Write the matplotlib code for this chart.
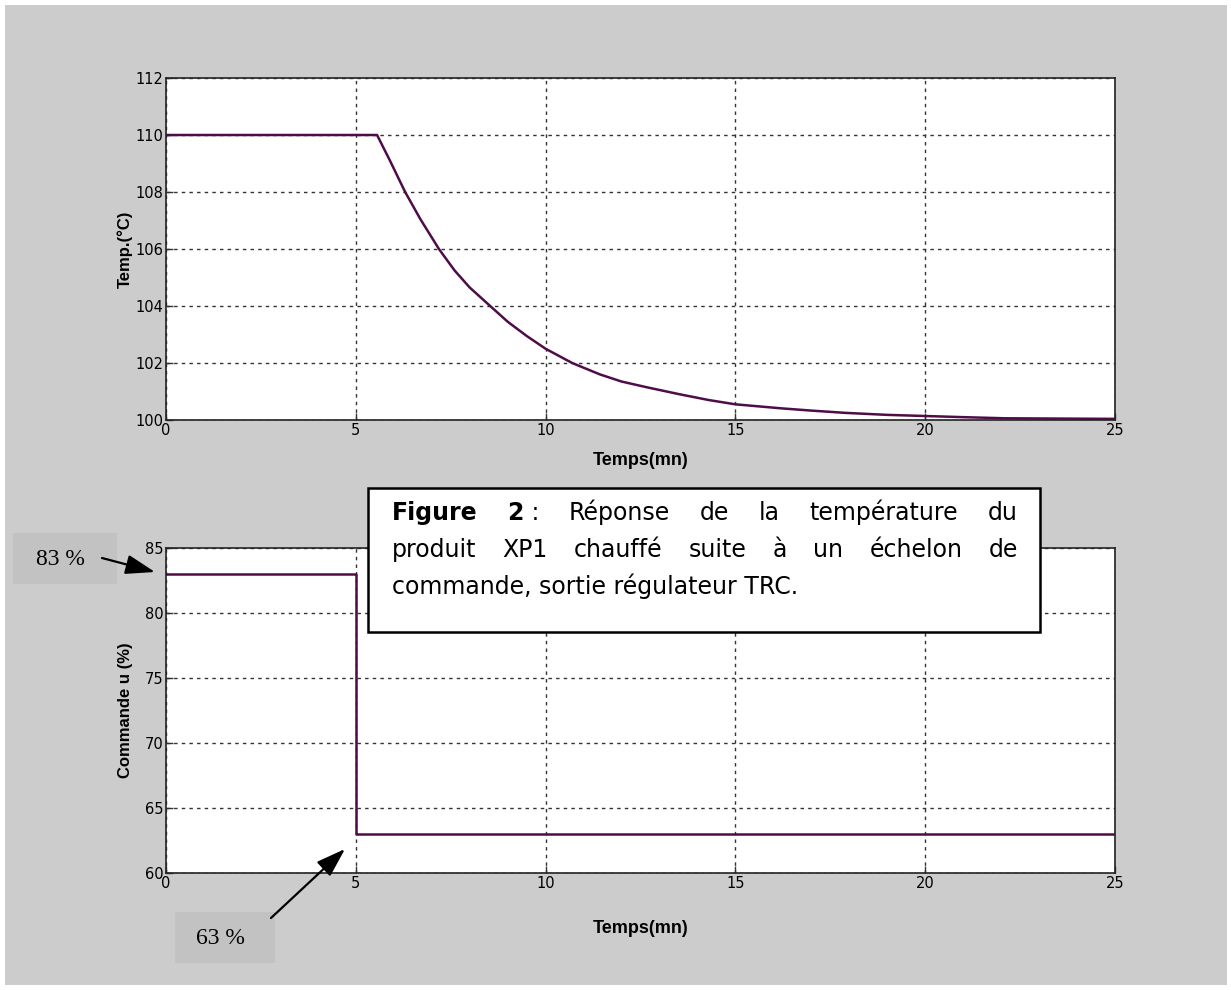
import numpy as np
import matplotlib
matplotlib.use('Agg')
import matplotlib.pyplot as plt
from matplotlib.patches import Rectangle, FancyArrowPatch

# temperature response
t_temp = [0, 5.56, 5.9, 6.3, 6.7, 7.19, 7.6, 8.0, 8.54, 9.0, 9.5, 10.0, 10.7, 11.43, 12.0,
          12.66, 13.54, 14.3, 15.0, 16.2, 17.0, 17.9, 19.0, 20.0, 21.0, 22.1, 23.5, 25.0]
temp = [110, 110, 109.1, 108.0, 107.05, 106.0, 105.25, 104.65, 104.0, 103.45, 102.95, 102.5,
        102.0, 101.6, 101.35, 101.15, 100.9, 100.7, 100.55, 100.41, 100.33, 100.25, 100.18,
        100.14, 100.1, 100.06, 100.05, 100.04]

# command step (lower panel)
t_cmd = [0, 5, 25]
cmd = [83, 63, 63]

temp_ticks = [100, 102, 104, 106, 108, 110, 112]
cmd_ticks = [60, 65, 70, 75, 80, 85]
time_ticks = [0, 5, 10, 15, 20, 25]

W, H = 1231, 990
line_col = '#4e0c48'
bg = '#cccccc'

def fx(x):
    return x / W

def fy(y):
    return 1 - y / H

fig = plt.figure(figsize=(W / 100, H / 100), dpi=100, facecolor='white')
fig.patches.append(Rectangle((fx(5), fy(985)), fx(1222), 980 / H, transform=fig.transFigure,
                             facecolor=bg, edgecolor='none', zorder=-10))

ax1 = fig.add_axes([fx(166), fy(420), fx(1115 - 166), (420 - 78) / H])
ax2 = fig.add_axes([fx(166), fy(873), fx(1115 - 166), (873 - 548) / H])

for ax, yt in ((ax1, temp_ticks), (ax2, cmd_ticks)):
    ax.set_facecolor('white')
    ax.set_xlim(0, 25)
    ax.set_ylim(yt[0], yt[-1])
    ax.set_xticks(time_ticks)
    ax.set_yticks(yt)
    ax.grid(True, color='#333333', linestyle=(0, (2.5, 3)), linewidth=1)
    ax.tick_params(direction='in', length=5, width=1, color='#333333', pad=2, labelsize=10.5)
    for s in ax.spines.values():
        s.set_linewidth(1.2)
        s.set_color('#222222')
    ax.set_xlabel('Temps(mn)', family='Liberation Sans', fontsize=13, fontweight='bold')

ax1.plot(t_temp, temp, color=line_col, linewidth=1.8)
ax2.plot(t_cmd, cmd, color=line_col, linewidth=1.8, drawstyle='steps-post')

ax1.set_ylabel('Temp.(°C)', family='Liberation Sans', fontsize=12, fontweight='bold')
ax2.set_ylabel('Commande u (%)', family='Liberation Sans', fontsize=12, fontweight='bold')
ax1.yaxis.set_label_coords(-0.035, 0.5)
ax2.yaxis.set_label_coords(-0.035, 0.5)
ax1.xaxis.set_label_coords(0.5, -0.094)
ax2.xaxis.set_label_coords(0.5, -0.145)

# caption box
fig.patches.append(Rectangle((fx(368), fy(632)), fx(1040 - 368), (632 - 488) / H,
                             transform=fig.transFigure, facecolor='white',
                             edgecolor='black', linewidth=1.8, zorder=5))

cap_font = 'DejaVu Sans'
cap_size = 17
renderer = fig.canvas.get_renderer()

def width_of(parts):
    w = 0
    for txt, wt in parts:
        t = fig.text(0, 0, txt, family=cap_font, fontsize=cap_size, fontweight=wt)
        w += t.get_window_extent(renderer).width
        t.remove()
    return w

def put_parts(x, y, parts):
    for txt, wt in parts:
        t = fig.text(fx(x), fy(y), txt, family=cap_font, fontsize=cap_size, fontweight=wt,
                     va='baseline', ha='left', zorder=6)
        x += t.get_window_extent(renderer).width

def justify(words, x0, x1, y):
    ws = [width_of(p) for p in words]
    gap = (x1 - x0 - sum(ws)) / (len(words) - 1)
    x = x0
    for p, w in zip(words, ws):
        put_parts(x, y, p)
        x += w + gap

line1 = [[('Figure', 'bold')], [('2', 'bold'), (' :', 'normal')], [('Réponse', 'normal')],
         [('de', 'normal')], [('la', 'normal')], [('température', 'normal')], [('du', 'normal')]]
line2 = [[(w, 'normal')] for w in 'produit XP1 chauffé suite à un échelon de'.split()]
justify(line1, 392, 1018, 520)
justify(line2, 392, 1018, 557)
fig.text(fx(392), fy(594), 'commande, sortie régulateur TRC.', family=cap_font,
         fontsize=cap_size, va='baseline', ha='left', zorder=6)

# value callouts
for (x0, y0, x1, y1), label in (((13, 533, 117, 584), '83 %'), ((175, 912, 275, 963), '63 %')):
    fig.patches.append(Rectangle((fx(x0), fy(y1)), fx(x1 - x0), (y1 - y0) / H,
                                 transform=fig.transFigure, facecolor='#c2c2c2',
                                 edgecolor='none', zorder=1))
    fig.text(fx((x0 + x1) / 2 - 5), fy((y0 + y1) / 2 + 1), label, family='Liberation Serif',
             fontsize=17, ha='center', va='center', zorder=2)

for p0, p1 in (((102, 558), (155, 572)), ((271, 918), (345, 849))):
    fig.add_artist(FancyArrowPatch((fx(p0[0]), fy(p0[1])), (fx(p1[0]), fy(p1[1])),
                                   transform=fig.transFigure,
                                   arrowstyle='-|>,head_length=0.9,head_width=0.3',
                                   mutation_scale=20, color='black', lw=1.6,
                                   shrinkA=0, shrinkB=0, zorder=7))

fig.savefig('out.png', dpi=100, facecolor=fig.get_facecolor())
